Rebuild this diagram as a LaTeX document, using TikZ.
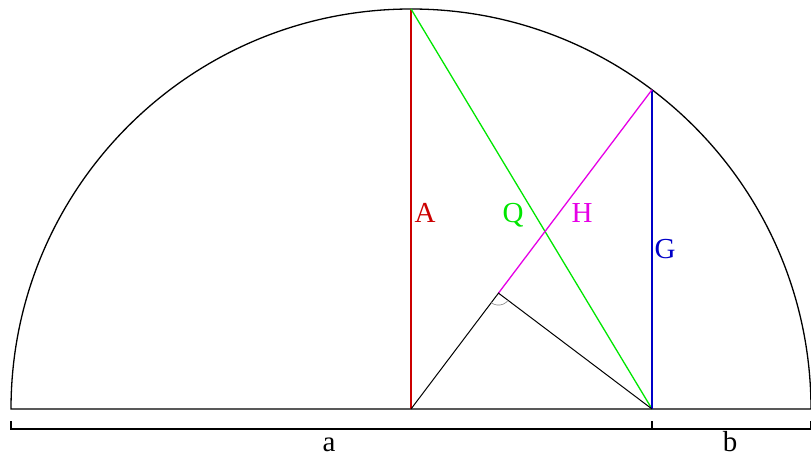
\documentclass[tikz,border=0pt]{standalone}
\usepackage{fontspec}
\setmainfont{Liberation Serif}
\usetikzlibrary{calc,angles}
\definecolor{cA}{RGB}{204,0,0}
\definecolor{cQ}{RGB}{0,230,0}
\definecolor{cH}{RGB}{230,0,230}
\definecolor{cG}{RGB}{0,0,200}
\tikzset{
  seg/.style={line width=1.3pt},
  lbl/.style={font=\fontsize{29}{29}\selectfont, inner sep=0pt, anchor=base},
}
\begin{document}
\begin{tikzpicture}[x=1pt,y=1pt]
\useasboundingbox (0,0) rectangle (811,456);
\coordinate (L) at (11,47);
\coordinate (R) at (811,47);
\coordinate (O) at (411,47);
\coordinate (T) at (411,447);
\coordinate (D) at (652,47);
\coordinate (P) at (652,366.25);
\coordinate (F) at ($(O)!(D)!(P)$);
% semicircle and diameter
\draw[seg] (R) arc[start angle=0,end angle=180,radius=400] -- cycle;
% means
\draw[seg,cA] (O) -- (T);
\draw[seg,cQ] (T) -- (D);
\draw[seg,cG] (D) -- (P);
\draw[seg,cH] (P) -- (F);
\draw[line width=1pt] (O) -- (F) -- (D);
\pic[draw=gray,line width=0.6pt,angle radius=12pt] {angle = O--F--D};
% bracket
\coordinate (B1) at (11,27);
\coordinate (B2) at (652,27);
\coordinate (B3) at (811,27);
\draw[seg] (11,35) -- (B1) -- (B3) -- (811,35);
\draw[seg] (B2) -- (652,35);
% labels
\node[lbl,text=cA] (lA) at (425,234) {A};
\node[lbl,text=cQ] (lQ) at (513,234) {Q};
\node[lbl,text=cH] (lH) at (582,234) {H};
\node[lbl,text=cG] (lG) at (665,198) {G};
\node[lbl] (la) at (329,5) {a};
\node[lbl] (lb) at (730,5) {b};
\end{tikzpicture}
\end{document}
